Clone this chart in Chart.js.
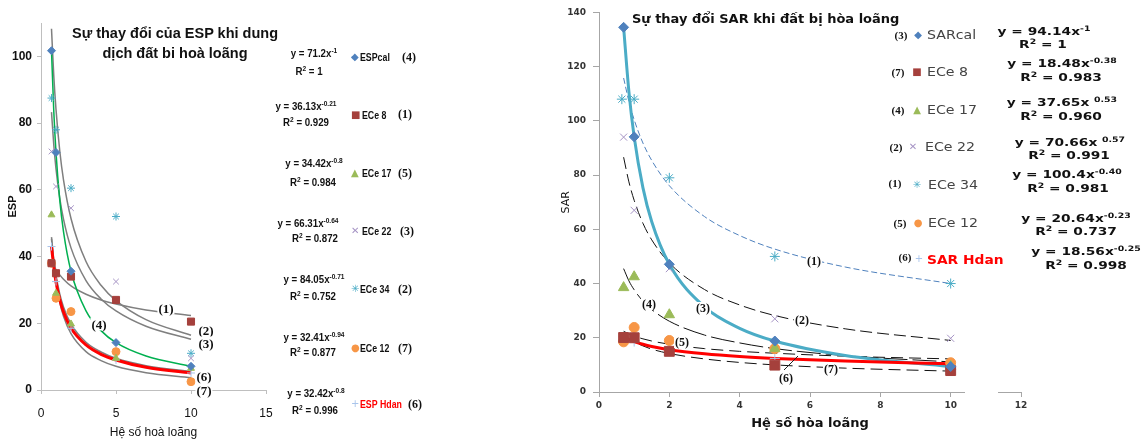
<!DOCTYPE html>
<html><head><meta charset="utf-8">
<script src="https://cdn.jsdelivr.net/npm/chart.js@4/dist/chart.umd.min.js"></script>
<style>
html,body{margin:0;padding:0;background:#fff;}
#wrap{position:relative;width:1144px;height:441px;overflow:hidden;background:#fff;}
.a{position:absolute;white-space:nowrap;line-height:1;}
.c{transform:translate(-50%,-50%);}
.l{transform:translateY(-50%);}
sup{font-size:0.68em;vertical-align:0.5em;line-height:0;}
.leq{font-family:"Liberation Sans",Arial,sans-serif;font-weight:bold;font-size:11px;color:#111;transform:translate(-50%,-50%) scaleX(0.88);}
.lnm{font-family:"Liberation Sans",Arial,sans-serif;font-weight:bold;font-size:11px;color:#111;transform-origin:left center;transform:translateY(-50%) scaleX(0.8);}
.num{font-family:"Liberation Serif","Times New Roman",serif;font-weight:bold;font-size:12px;color:#111;}
.lab{font-family:"Liberation Serif","Times New Roman",serif;font-weight:bold;font-size:13px;color:#111;background:#fff;padding:0 1px;}
.req{font-family:"DejaVu Sans",sans-serif;font-weight:bold;font-size:11px;color:#111;transform:translate(-50%,-50%) scaleX(1.25);}
.rnm{font-family:"DejaVu Sans",sans-serif;font-size:12px;color:#444;transform-origin:left center;transform:translateY(-50%) scaleX(1.18);}
.mk{font-family:"DejaVu Sans",sans-serif;font-size:10px;}
</style></head><body>
<div id="wrap">
<div style="position:absolute;left:0;top:0;"><canvas id="left" width="290" height="441"></canvas></div>
<div style="position:absolute;left:540px;top:0;"><canvas id="right" width="500" height="441"></canvas></div>

<!-- white gap over right x axis (legend box) -->
<div class="a" style="left:965px;top:386px;width:33px;height:10px;background:#fff;"></div>

<!-- Left title -->
<div class="a c" style="left:175px;top:33px;font-family:'Liberation Sans',Arial,sans-serif;font-weight:bold;font-size:14.5px;color:#111;">Sự thay đổi của ESP khi dung</div>
<div class="a c" style="left:175px;top:53px;font-family:'Liberation Sans',Arial,sans-serif;font-weight:bold;font-size:14.5px;color:#111;">dịch đất bi hoà loãng</div>

<!-- Left annotations -->
<div class="a c lab" style="left:166px;top:308px;">(1)</div>
<div class="a c lab" style="left:206px;top:330px;">(2)</div>
<div class="a c lab" style="left:206px;top:343px;">(3)</div>
<div class="a c lab" style="left:99px;top:324px;">(4)</div>
<div class="a c lab" style="left:204px;top:376px;">(6)</div>
<div class="a c lab" style="left:204px;top:390px;">(7)</div>

<!-- Left legend -->
<div class="a leq" style="left:314px;top:53px;">y = 71.2x<sup>-1</sup></div>
<div class="a leq" style="left:309px;top:71px;">R<sup>2</sup> = 1</div>
<div class="a l mk" style="left:351px;top:57px;color:#4F81BD;">◆</div>
<div class="a lnm" style="left:360px;top:57px;">ESPcal</div>
<div class="a l num" style="left:402px;top:57px;">(4)</div>

<div class="a leq" style="left:306px;top:106px;">y = 36.13x<sup>-0.21</sup></div>
<div class="a leq" style="left:306px;top:122px;">R<sup>2</sup> = 0.929</div>
<div class="a l mk" style="left:351px;top:115px;color:#A5403C;">■</div>
<div class="a lnm" style="left:362px;top:115px;">ECe 8</div>
<div class="a l num" style="left:398px;top:114px;">(1)</div>

<div class="a leq" style="left:314px;top:163px;">y = 34.42x<sup>-0.8</sup></div>
<div class="a leq" style="left:313px;top:182px;">R<sup>2</sup> = 0.984</div>
<div class="a l mk" style="left:351px;top:173px;color:#9BBB59;">▲</div>
<div class="a lnm" style="left:362px;top:173px;">ECe 17</div>
<div class="a l num" style="left:398px;top:173px;">(5)</div>

<div class="a leq" style="left:308px;top:223px;">y = 66.31x<sup>-0.64</sup></div>
<div class="a leq" style="left:315px;top:238px;">R<sup>2</sup> = 0.872</div>
<div class="a l mk" style="left:351px;top:231px;color:#A593C4;">✕</div>
<div class="a lnm" style="left:362px;top:231px;">ECe 22</div>
<div class="a l num" style="left:400px;top:231px;">(3)</div>

<div class="a leq" style="left:314px;top:279px;">y = 84.05x<sup>-0.71</sup></div>
<div class="a leq" style="left:313px;top:296px;">R<sup>2</sup> = 0.752</div>
<div class="a l mk" style="left:351px;top:289px;color:#4BACC6;">✳</div>
<div class="a lnm" style="left:360px;top:289px;">ECe 34</div>
<div class="a l num" style="left:398px;top:289px;">(2)</div>

<div class="a leq" style="left:314px;top:337px;">y = 32.41x<sup>-0.94</sup></div>
<div class="a leq" style="left:313px;top:352px;">R<sup>2</sup> = 0.877</div>
<div class="a l mk" style="left:351px;top:348px;color:#F79646;">●</div>
<div class="a lnm" style="left:360px;top:348px;">ECe 12</div>
<div class="a l num" style="left:398px;top:348px;">(7)</div>

<div class="a leq" style="left:316px;top:393px;">y = 32.42x<sup>-0.8</sup></div>
<div class="a leq" style="left:315px;top:410px;">R<sup>2</sup> = 0.996</div>
<div class="a l mk" style="left:351px;top:404px;color:#A9C4EB;">+</div>
<div class="a lnm" style="left:360px;top:404px;color:#FF0000;">ESP Hdan</div>
<div class="a l num" style="left:408px;top:404px;">(6)</div>

<!-- Right title -->
<div class="a l" style="left:632px;top:18px;font-family:'DejaVu Sans',sans-serif;font-weight:bold;font-size:13px;color:#111;">Sự thay đổi SAR khi đất bị hòa loãng</div>

<!-- Right annotations -->
<div class="a c lab" style="left:814px;top:261px;font-size:12px;">(1)</div>
<div class="a c lab" style="left:802px;top:320px;font-size:12px;">(2)</div>
<div class="a c lab" style="left:703px;top:308px;font-size:12px;">(3)</div>
<div class="a c lab" style="left:649px;top:304px;font-size:12px;">(4)</div>
<div class="a c lab" style="left:682px;top:342px;font-size:12px;">(5)</div>
<div class="a c lab" style="left:786px;top:378px;font-size:12px;">(6)</div>
<div class="a c lab" style="left:831px;top:369px;font-size:12px;">(7)</div>
<svg class="a" style="left:0;top:0;" width="1144" height="441"><line x1="784" y1="370" x2="798" y2="356" stroke="#222" stroke-width="1"/></svg>

<!-- Right legend -->
<div class="a c num" style="left:901px;top:35px;font-size:11px;">(3)</div>
<div class="a c mk" style="left:918px;top:35px;color:#4F81BD;">◆</div>
<div class="a rnm" style="left:927px;top:35px;">SARcal</div>
<div class="a req" style="left:1044px;top:31px;">y = 94.14x<sup>-1</sup></div>
<div class="a req" style="left:1043px;top:44px;">R<sup>2</sup> = 1</div>

<div class="a c num" style="left:898px;top:72px;font-size:11px;">(7)</div>
<div class="a c mk" style="left:917px;top:72px;color:#A5403C;">■</div>
<div class="a rnm" style="left:927px;top:72px;">ECe 8</div>
<div class="a req" style="left:1062px;top:63px;">y = 18.48x<sup>-0.38</sup></div>
<div class="a req" style="left:1061px;top:77px;">R<sup>2</sup> = 0.983</div>

<div class="a c num" style="left:898px;top:110px;font-size:11px;">(4)</div>
<div class="a c mk" style="left:917px;top:110px;color:#9BBB59;">▲</div>
<div class="a rnm" style="left:927px;top:110px;">ECe 17</div>
<div class="a req" style="left:1062px;top:102px;">y = 37.65x <sup>0.53</sup></div>
<div class="a req" style="left:1061px;top:116px;">R<sup>2</sup> = 0.960</div>

<div class="a c num" style="left:896px;top:147px;font-size:11px;">(2)</div>
<div class="a c mk" style="left:913px;top:147px;color:#A593C4;">✕</div>
<div class="a rnm" style="left:925px;top:147px;">ECe 22</div>
<div class="a req" style="left:1070px;top:142px;">y = 70.66x <sup>0.57</sup></div>
<div class="a req" style="left:1069px;top:155px;">R<sup>2</sup> = 0.991</div>

<div class="a c num" style="left:895px;top:183px;font-size:11px;">(1)</div>
<div class="a c mk" style="left:917px;top:185px;color:#4BACC6;">✳</div>
<div class="a rnm" style="left:928px;top:185px;">ECe 34</div>
<div class="a req" style="left:1067px;top:174px;">y = 100.4x<sup>-0.40</sup></div>
<div class="a req" style="left:1068px;top:188px;">R<sup>2</sup> = 0.981</div>

<div class="a c num" style="left:900px;top:223px;font-size:11px;">(5)</div>
<div class="a c mk" style="left:918px;top:223px;color:#F79646;">●</div>
<div class="a rnm" style="left:928px;top:223px;">ECe 12</div>
<div class="a req" style="left:1076px;top:218px;">y = 20.64x<sup>-0.23</sup></div>
<div class="a req" style="left:1076px;top:231px;">R<sup>2</sup> = 0.737</div>

<div class="a c num" style="left:905px;top:257px;font-size:11px;">(6)</div>
<div class="a c mk" style="left:919px;top:259px;color:#A9C4EB;">+</div>
<div class="a rnm" style="left:927px;top:260px;color:#FF0000;font-weight:bold;transform:translateY(-50%) scaleX(1.15);">SAR Hdan</div>
<div class="a req" style="left:1086px;top:251px;">y = 18.56x<sup>-0.25</sup></div>
<div class="a req" style="left:1086px;top:265px;">R<sup>2</sup> = 0.998</div>
</div>

<script>
// ---------- shared dilution factors ----------
const dilution = [0.7, 1, 2, 5, 10];
const trendX = [0.7, 0.85, 1, 1.25, 1.5, 2, 3, 4, 5, 7, 10];

// ---------- ESP chart: measured points ----------
const espCal   = [101.7, 71.2, 35.6, 14.2, 7.1];
const espEce8  = [38, 35, 34, 27, 20.5];
const espEce17 = [52.5, 29, 19.8, 9.5, 6.5];
const espEce22 = [71.5, 61, 54.5, 32.5, 9.5];
const espEce34 = [87.5, 78, 60.5, 52, 11];
const espEce12 = [38, 27.5, 23.5, 11.5, 2.5];
const espHdan  = [43, 32.5, 18.5, 9, 5.1];

// ---------- ESP chart: trend curves read along trendX ----------
const espTrend1 = [38.9, 37.4, 36.1, 34.5, 33.2, 31.2, 28.7, 27.0, 25.8, 24.0, 22.3];
const espTrend2 = [108.3, 94.3, 84.1, 71.7, 63.0, 51.4, 38.5, 31.4, 26.8, 21.1, 16.4];
const espTrend3 = [83.3, 73.6, 66.3, 57.5, 51.2, 42.6, 32.8, 27.3, 23.7, 19.1, 15.2];
const espTrend4 = [101.7, 83.8, 71.2, 57.0, 47.5, 35.6, 23.7, 17.8, 14.2, 10.2, 7.1];
const espTrend5 = [45.8, 39.2, 34.4, 28.8, 24.9, 19.8, 14.3, 11.4, 9.5, 7.3, 5.5];
const espTrend6 = [43.1, 36.9, 32.4, 27.1, 23.4, 18.6, 13.5, 10.7, 9.0, 6.8, 5.1];
const espTrend7 = [45.3, 37.8, 32.4, 26.3, 22.1, 16.9, 11.5, 8.8, 7.1, 5.2, 3.7];

// ---------- SAR chart: measured points ----------
const sarCal   = [134.5, 94.1, 47.1, 18.8, 9.4];
const sarEce8  = [20.1, 20, 15, 9.9, 7.9];
const sarEce17 = [38.5, 42.5, 28.5, 16, 9.5];
const sarEce22 = [94, 67, 45.5, 27, 19.8];
const sarEce34 = [108, 108, 79, 50, 40];
const sarEce12 = [18.5, 23.8, 19, 16, 10.8];
const sarHdan  = [20.3, 18.6, 15.6, 12.4, 10.4];
const sarEce34X = [0.65, 1, 2, 5, 10];

// ---------- SAR chart: trend curves read along trendX ----------
const sarTrend1 = [115.8, 107.2, 100.4, 91.8, 85.4, 76.1, 64.7, 57.7, 52.7, 46.1, 40.0];
const sarTrend2 = [86.6, 77.5, 70.7, 62.2, 56.1, 47.6, 37.8, 32.1, 28.2, 23.3, 19.0];
const sarTrend3 = [134.5, 110.8, 94.1, 75.3, 62.8, 47.1, 31.4, 23.5, 18.8, 13.5, 9.4];
const sarTrend4 = [45.5, 41.0, 37.7, 33.5, 30.4, 26.1, 21.0, 18.1, 16.0, 13.4, 11.1];
const sarTrend5 = [22.4, 21.4, 20.6, 19.6, 18.8, 17.6, 16.0, 15.0, 14.3, 13.2, 12.2];
const sarTrend6 = [20.3, 19.3, 18.6, 17.6, 16.8, 15.6, 14.1, 13.1, 12.4, 11.4, 10.4];
const sarTrend7 = [21.2, 19.7, 18.5, 17.0, 15.8, 14.2, 12.2, 10.9, 10.0, 8.8, 7.7];

const pts = (xs, ys) => xs.map((x, i) => ({x: x, y: ys[i]}));

function markers(xs, ys, style, color, r, bw, fill) {
  return {data: pts(xs, ys), pointStyle: style, pointRadius: r, pointHoverRadius: r,
    borderColor: color, backgroundColor: fill === false ? 'rgba(0,0,0,0)' : color,
    pointBorderWidth: bw, showLine: false};
}
function trend(ys, color, w, dash) {
  return {data: pts(trendX, ys), showLine: true, pointRadius: 0, pointHoverRadius: 0,
    borderColor: color, backgroundColor: color, borderWidth: w, borderDash: dash || [],
    cubicInterpolationMode: 'monotone', fill: false};
}

// ---------- Left chart (ESP) ----------
new Chart(document.getElementById('left'), {
  type: 'scatter',
  data: {datasets: [
    markers(dilution, espCal, 'rectRot', '#4F81BD', 4, 1),
    markers(dilution, espEce8, 'rect', '#A5403C', 5, 1),
    markers(dilution, espEce17, 'triangle', '#9BBB59', 4, 1),
    markers(dilution, espEce22, 'crossRot', '#A593C4', 4, 1, false),
    markers(dilution, espEce34, 'star', '#4BACC6', 4, 1, false),
    markers(dilution, espEce12, 'circle', '#F79646', 4, 1),
    markers(dilution, espHdan, 'cross', '#A9C4EB', 4, 1, false),
    trend(espTrend6, '#FF0000', 3),
    trend(espTrend4, '#00B050', 1.5),
    trend(espTrend1, '#7F7F7F', 1.5),
    trend(espTrend2, '#7F7F7F', 1.5),
    trend(espTrend3, '#7F7F7F', 1.5),
    trend(espTrend5, '#7F7F7F', 1.5),
    trend(espTrend7, '#7F7F7F', 1.5)
  ]},
  options: {
    responsive: false, animation: false,
    layout: {padding: {left: 0, right: 24, top: 23, bottom: 0}},
    plugins: {legend: {display: false}, tooltip: {enabled: false}, title: {display: false}},
    scales: {
      x: {type: 'linear', min: 0, max: 15,
        ticks: {stepSize: 5, maxRotation: 0, padding: 12, color: '#111',
          font: {family: 'Liberation Sans', size: 12}},
        grid: {drawOnChartArea: false, drawTicks: true, tickLength: 4, color: '#BFBFBF'},
        border: {display: true, color: '#BFBFBF', width: 1},
        title: {display: true, text: 'Hệ số hoà loãng', color: '#111',
          font: {family: 'Liberation Sans', size: 12}, padding: {top: 0, bottom: 1}},
        afterFit: s => { s.height = 51; }
      },
      y: {type: 'linear', min: 0, max: 110,
        ticks: {stepSize: 20, padding: 5, color: '#111',
          font: {family: 'Liberation Sans', size: 12, weight: 'bold'}},
        afterBuildTicks: s => { s.ticks = s.ticks.filter(t => t.value % 20 === 0); },
        grid: {drawOnChartArea: false, drawTicks: true, tickLength: 4, color: '#BFBFBF'},
        border: {display: true, color: '#BFBFBF', width: 1},
        title: {display: true, text: 'ESP', color: '#111',
          font: {family: 'Liberation Sans', size: 11, weight: 'bold'}, padding: {top: 6, bottom: 0}},
        afterFit: s => { s.width = 41; }
      }
    }
  }
});

// ---------- Right chart (SAR) ----------
new Chart(document.getElementById('right'), {
  type: 'scatter',
  data: {datasets: [
    markers(dilution, sarCal, 'rectRot', '#4F81BD', 5, 1),
    markers(dilution, sarEce8, 'rect', '#A5403C', 7, 1),
    markers(dilution, sarEce17, 'triangle', '#9BBB59', 6, 1),
    markers(dilution, sarEce22, 'crossRot', '#A593C4', 5, 1, false),
    markers(sarEce34X, sarEce34, 'star', '#4BACC6', 5, 1, false),
    markers(dilution, sarEce12, 'circle', '#F79646', 5, 1),
    markers(dilution, sarHdan, 'cross', '#A9C4EB', 5, 1, false),
    trend(sarTrend6, '#FF0000', 3),
    trend(sarTrend3, '#4BACC6', 3),
    trend(sarTrend1, '#4F81BD', 1, [6, 3]),
    trend(sarTrend2, '#111', 1, [12, 5]),
    trend(sarTrend4, '#111', 1, [24, 5]),
    trend(sarTrend5, '#111', 1, [12, 6]),
    trend(sarTrend7, '#111', 1, [12, 6])
  ]},
  options: {
    responsive: false, animation: false,
    layout: {padding: {left: 0, right: 19, top: 11, bottom: 0}},
    plugins: {legend: {display: false}, tooltip: {enabled: false}, title: {display: false}},
    scales: {
      x: {type: 'linear', min: 0, max: 12,
        ticks: {stepSize: 2, maxRotation: 0, padding: 3, color: '#333',
          font: {family: 'DejaVu Sans', size: 9, weight: 'bold'}},
        grid: {drawOnChartArea: false, drawTicks: true, tickLength: 5, color: '#A6A6A6'},
        border: {display: true, color: '#A6A6A6', width: 1},
        title: {display: true, text: 'Hệ số hòa loãng', color: '#111',
          font: {family: 'DejaVu Sans', size: 13, weight: 'bold'}, padding: {top: 0, bottom: 10}},
        afterFit: s => { s.height = 49; }
      },
      y: {type: 'linear', min: 0, max: 140,
        ticks: {stepSize: 20, padding: 7, color: '#333',
          font: {family: 'DejaVu Sans', size: 9, weight: 'bold'}},
        grid: {drawOnChartArea: false, drawTicks: true, tickLength: 6, color: '#A6A6A6'},
        border: {display: true, color: '#A6A6A6', width: 1},
        title: {display: true, text: 'SAR', color: '#111',
          font: {family: 'DejaVu Sans', size: 11}, padding: {top: 20, bottom: 0}},
        afterFit: s => { s.width = 59; }
      }
    }
  }
});
</script>
</body></html>
